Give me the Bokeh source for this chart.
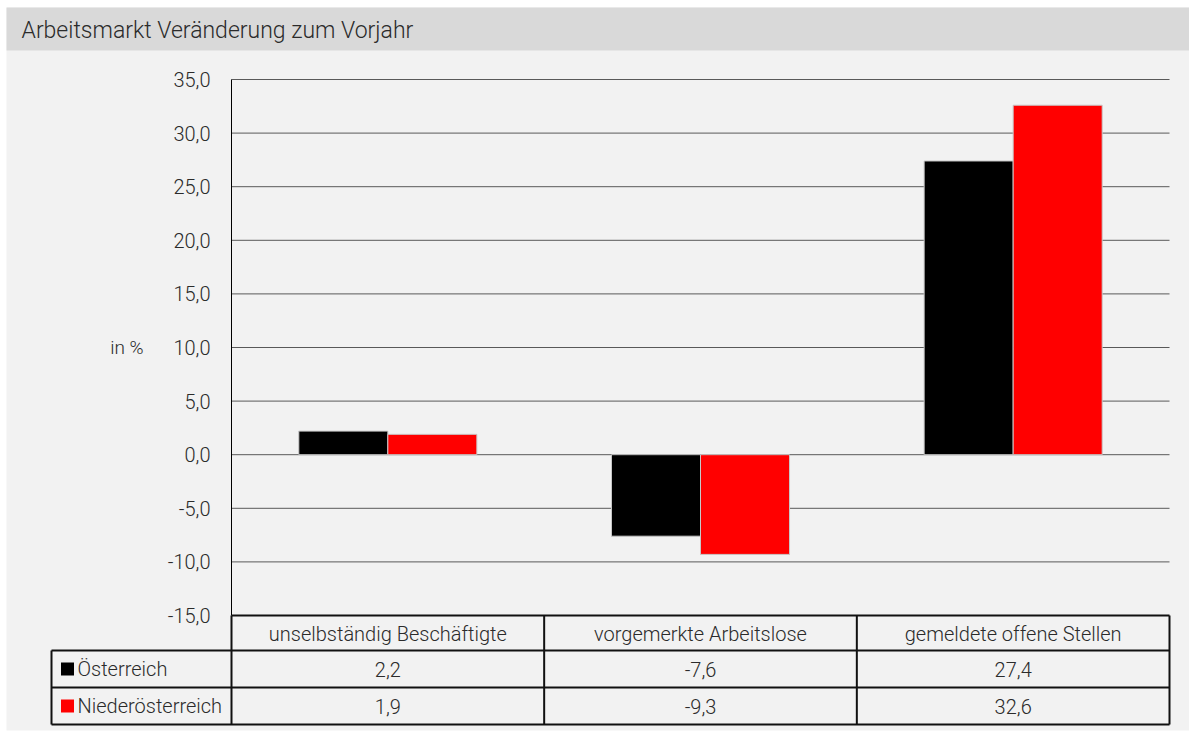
import numpy as np
from bokeh.plotting import figure
from bokeh.models import Range1d, LinearAxis, FixedTicker, CustomJSTickFormatter
from bokeh.core.properties import value
from bokeh.embed import file_html
from bokeh.resources import INLINE

# ---------------- data ----------------
categories = ["unselbständig Beschäftigte", "vorgemerkte Arbeitslose", "gemeldete offene Stellen"]
series_names = ["Österreich", "Niederösterreich"]
oesterreich = [2.2, -7.6, 27.4]
niederoesterreich = [1.9, -9.3, 32.6]
y_ticks = [-15, -10, -5, 0, 5, 10, 15, 20, 25, 30, 35]
title_text = "Arbeitsmarkt Veränderung zum Vorjahr"
unit_label = "in %"

# ---------------- layout (canvas pixels) ----------------
W, H = 1189, 731
PAN_L, PAN_T, PAN_B = 6, 7, 730   # light panel
TITLE_B = 50
PL, PR = 231, 1169      # plot area left / right
PT, PB = 79, 615        # plot area top / bottom
LEG_L = 51              # left edge of legend column of the table
ROW1, ROW2, ROW3 = 650, 687, 724

FONT_NAME = "Roboto Light, Roboto"
FONT = value(FONT_NAME)
TXT = "#2b2b2b"
COLORS = ["#000000", "#ff0000"]

n = len(categories)
ymin, ymax = min(y_ticks), max(y_ticks)
upx = n / (PR - PL)
upy = (ymax - ymin) / (PB - PT)
x0 = -0.5 - PL * upx
x1 = n - 0.5 + (W - PR) * upx
y1 = ymax + PT * upy
y0 = ymin - (H - PB) * upy

p = figure(width=W, height=H, output_backend="svg", toolbar_location=None,
           x_range=Range1d(x0, x1), y_range=Range1d(y0, y1),
           x_axis_type=None, y_axis_type=None, min_border=0)
p.extra_x_ranges = {"px": Range1d(0, W)}
p.extra_y_ranges = {"px": Range1d(H, 0)}
p.background_fill_color = "#ffffff"
p.border_fill_color = "#ffffff"
p.outline_line_color = None

# panel + title bar
p.quad(left=[PAN_L], right=[W], top=[PAN_T], bottom=[PAN_B], fill_color="#f2f2f2", line_color=None,
       x_range_name="px", y_range_name="px")
p.quad(left=[PAN_L], right=[W], top=[PAN_T], bottom=[TITLE_B], fill_color="#d9d9d9", line_color=None,
       x_range_name="px", y_range_name="px")
p.text(x=[21], y=[(PAN_T + TITLE_B) / 2 + 1], text=[title_text], text_font=FONT, text_font_size="23px",
       text_color=TXT, text_align="left", text_baseline="middle",
       x_range_name="px", y_range_name="px")

# gridlines
gt = [t for t in y_ticks if t != ymin]
p.segment(x0=[-0.5] * len(gt), x1=[n - 0.5] * len(gt), y0=gt, y1=gt, line_color="#595959", line_width=1)

# bars
xs = np.arange(n)
bw = 0.2847
off = bw / 2
for vals, col, dx in [(oesterreich, COLORS[0], -off), (niederoesterreich, COLORS[1], off)]:
    p.vbar(x=xs + dx, top=vals, bottom=0, width=bw, fill_color=col, line_color="#c8c8c8", line_width=1)

# y axis
yaxis = LinearAxis(fixed_location=-0.5, ticker=FixedTicker(ticks=y_ticks),
                   formatter=CustomJSTickFormatter(code="return tick.toFixed(1).replace('.', ',')"),
                   bounds=(ymin, ymax), axis_label=unit_label, axis_label_orientation="horizontal")
yaxis.axis_line_color = "#000000"
yaxis.axis_line_width = 1
yaxis.major_tick_in = 0
yaxis.major_tick_out = 0
yaxis.minor_tick_in = 0
yaxis.minor_tick_out = 0
yaxis.major_label_standoff = 21
yaxis.major_label_text_font = FONT_NAME
yaxis.major_label_text_font_size = "20px"
yaxis.major_label_text_color = TXT
yaxis.axis_label_text_font = FONT_NAME
yaxis.axis_label_text_font_size = "19px"
yaxis.axis_label_text_font_style = "normal"
yaxis.axis_label_text_color = TXT
yaxis.axis_label_standoff = 21
p.add_layout(yaxis, "left")

# ---------------- data table ----------------
leg_x = -0.5 - (PL - LEG_L) * upx
bounds_x = [i - 0.5 for i in range(n + 1)]
BORDER = "#111111"
# horizontal lines
p.segment(x0=[-0.5, leg_x, leg_x, leg_x], x1=[n - 0.5] * 4, y0=[PB, ROW1, ROW2, ROW3], y1=[PB, ROW1, ROW2, ROW3],
          line_color=BORDER, line_width=2, y_range_name="px")
# vertical lines
p.segment(x0=bounds_x + [leg_x], x1=bounds_x + [leg_x], y0=[PB] * (n + 1) + [ROW1], y1=[ROW3] * (n + 2),
          line_color=BORDER, line_width=2, y_range_name="px")

fmt = lambda v: f"{v:.1f}".replace(".", ",")
p.text(x=list(xs), y=[(PB + ROW1) / 2 + 1] * n, text=categories, text_font=FONT, text_font_size="20px",
       text_color=TXT, text_align="center", text_baseline="middle", y_range_name="px")
for vals, ymid in [(oesterreich, (ROW1 + ROW2) / 2), (niederoesterreich, (ROW2 + ROW3) / 2)]:
    p.text(x=list(xs), y=[ymid] * n, text=[fmt(v) for v in vals], text_font=FONT, text_font_size="20px",
           text_color=TXT, text_align="center", text_baseline="middle", y_range_name="px")

# legend keys inside the table
row_mid = [(ROW1 + ROW2) / 2, (ROW2 + ROW3) / 2]
p.scatter(x=[LEG_L + 16] * 2, y=row_mid, marker="square", size=13, fill_color=COLORS, line_color=None,
          x_range_name="px", y_range_name="px")
p.text(x=[LEG_L + 26] * 2, y=row_mid, text=series_names, text_font=FONT, text_font_size="20px",
       text_color=TXT, text_align="left", text_baseline="middle", x_range_name="px", y_range_name="px")

open("out.html", "w").write(file_html(p, INLINE))
